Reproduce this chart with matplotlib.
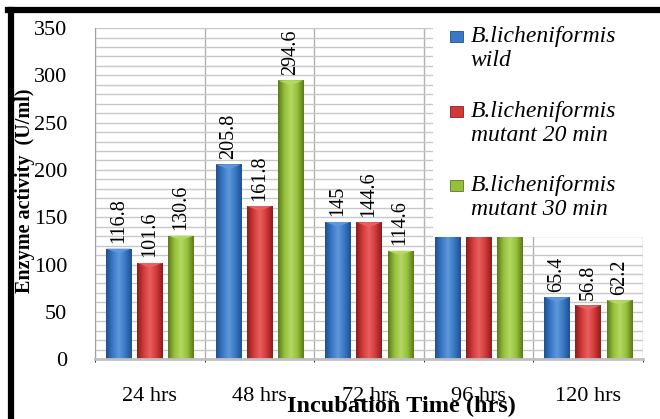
import numpy as np
import matplotlib
matplotlib.use("Agg")
import matplotlib.pyplot as plt
from matplotlib.colors import LinearSegmentedColormap
from matplotlib.patches import Polygon, Rectangle
from matplotlib.lines import Line2D

# data (96 hrs bars are hidden behind the legend box)
categories = ["24 hrs", "48 hrs", "72 hrs", "96 hrs", "120 hrs"]
series = ["B.licheniformis\nwild", "B.licheniformis\nmutant 20 min", "B.licheniformis\nmutant 30 min"]
wild = [116.8, 205.8, 145, 200, 65.4]
mutant20 = [101.6, 161.8, 144.6, 195, 56.8]
mutant30 = [130.6, 294.6, 114.6, 205, 62.2]
hidden = "96 hrs"  # its value labels sit under the legend box

# dark edge, body, highlight
palettes = [("#1f4f8f", "#3a78c6", "#5e98da"),
            ("#8c1c1c", "#d23a3a", "#e86060"),
            ("#5a7a18", "#96c03c", "#b4d862")]

plt.rcParams["font.family"] = ["Liberation Serif", "DejaVu Serif"]

fig = plt.figure(figsize=(6.6, 4.19), dpi=100)
ax = fig.add_axes([0.144, 0.143, 0.830, 0.790])

x = np.arange(len(categories))
width = 0.23
step = 0.285
grad = np.linspace(0, 1, 64).reshape(1, -1)

for i, vals in enumerate([wild, mutant20, mutant30]):
    dark, base, light = palettes[i]
    cmap = LinearSegmentedColormap.from_list("b%d" % i, [dark, base, light, base, dark])
    bars = ax.bar(x + (i - 1) * step, vals, width, color=base, zorder=2, linewidth=0)
    for b, v, cat in zip(bars, vals, categories):
        x0 = b.get_x()
        im = ax.imshow(grad, extent=[x0, x0 + width, 0, v], aspect="auto", cmap=cmap, zorder=2.5)
        im.set_clip_path(b)
        cap = Polygon([[x0, v], [x0 + width, v], [x0 + width / 2, v - 5]], closed=True,
                      facecolor=light, edgecolor="none", zorder=3)
        ax.add_patch(cap)
        if cat == hidden:
            continue
        ax.annotate(f"{v:g}", (x0 + width / 2, v), xytext=(0, 4), textcoords="offset points",
                    rotation=90, ha="center", va="bottom", fontsize=14.5, zorder=4)

ax.set_xlim(-0.5, len(categories) - 0.5)
ax.set_ylim(0, 350)
ax.set_yticks(np.arange(0, 351, 50))
ax.set_yticks(np.arange(0, 351, 10), minor=True)
ax.set_xticks(x)
ax.set_xticklabels(categories, fontsize=16)
ax.tick_params(axis="y", labelsize=16, pad=20, length=0)
ax.tick_params(axis="y", which="minor", length=0)
ax.tick_params(axis="x", length=0, pad=20)
ax.grid(True, axis="y", which="both", color="#c8c8c8", linewidth=1.0, zorder=0)
ax.set_xticks(np.arange(-0.5, len(categories), 1), minor=True)
ax.grid(True, axis="x", which="minor", color="#b0b0b0", linewidth=1.0, zorder=0)
ax.set_axisbelow(True)
for side in ["top", "right"]:
    ax.spines[side].set_visible(False)
ax.spines["left"].set_color("#a0a0a0")
ax.spines["bottom"].set_color("#c0c0c0")
ax.spines["bottom"].set_linewidth(2)

fig.text(0.038, 0.545, "Enzyme activity  (U/ml)", rotation=90, ha="center", va="center",
         fontsize=14.5, fontweight="bold")
fig.text(0.608, 0.03, "Incubation Time (hrs)", ha="center", va="center",
         fontsize=17.5, fontweight="bold")

# legend box covering the upper right of the plot
fig.patches.append(Rectangle((0.656, 0.434), 0.36, 0.56, transform=fig.transFigure,
                             facecolor="white", edgecolor="none", zorder=5))
legend_y = [0.912, 0.733, 0.557]
for (dark, base, light), name, ly in zip(palettes, series, legend_y):
    fig.patches.append(Rectangle((0.682, ly - 0.012), 0.019, 0.026, transform=fig.transFigure,
                                 facecolor=base, edgecolor=dark, linewidth=0.6, zorder=6))
    fig.text(0.713, ly + 0.026, name, ha="left", va="top", fontsize=17, style="italic",
             linespacing=1.2, zorder=6)

# thick black frame on the left and top
fig.lines.append(Line2D([0.017, 0.017], [0.0, 0.975], transform=fig.transFigure,
                        color="black", linewidth=4.5, zorder=7))
fig.lines.append(Line2D([0.012, 1.0], [0.975, 0.975], transform=fig.transFigure,
                        color="black", linewidth=4.5, zorder=7))

fig.savefig("out.png", dpi=100)
